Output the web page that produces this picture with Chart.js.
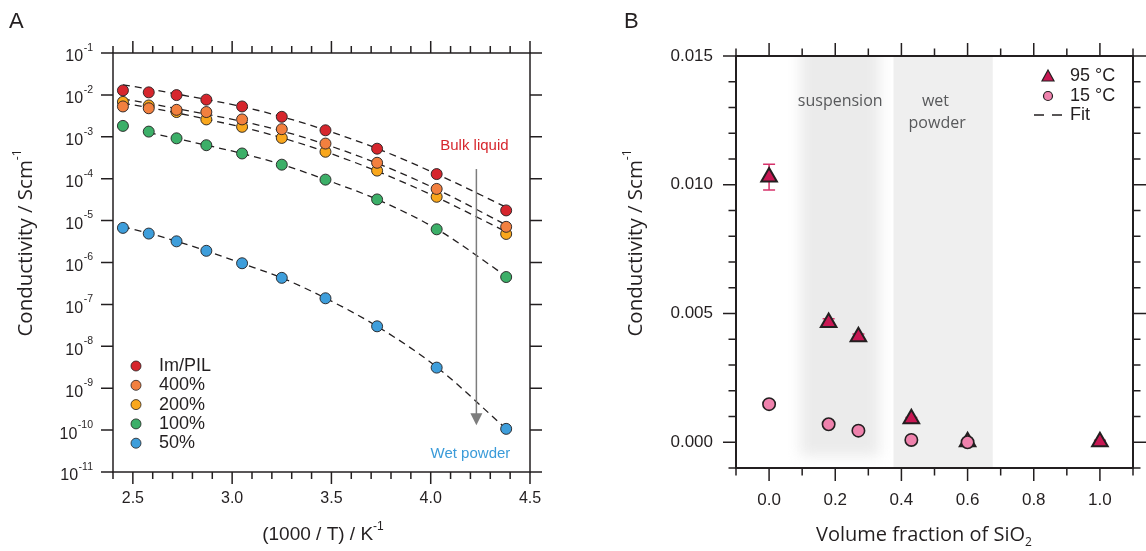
<!DOCTYPE html>
<html>
<head>
<meta charset="utf-8">
<script src="https://cdn.jsdelivr.net/npm/chart.js@4.4.1/dist/chart.umd.min.js"></script>
<style>
  body { margin: 0; background: #fff; }
  #wrap { position: relative; width: 1146px; height: 551px; }
  #wrap canvas { position: absolute; left: 0; top: 0; }
</style>
</head>
<body>
<div id="wrap">
  <canvas id="chartA" width="1146" height="551"></canvas>
  <canvas id="chartB" width="1146" height="551"></canvas>
</div>
<script>
// ---- panel A data: conductivity vs 1000/T ----
const invT = [2.45, 2.58, 2.72, 2.87, 3.05, 3.25, 3.47, 3.73, 4.03, 4.38];
const imPil = [1.28e-2, 1.15e-2, 9.9e-3, 7.7e-3, 5.3e-3, 3.0e-3, 1.43e-3, 5.2e-4, 1.29e-4, 1.75e-5];
const pct400 = [5.3e-3, 4.8e-3, 4.4e-3, 3.9e-3, 2.6e-3, 1.52e-3, 6.9e-4, 2.4e-4, 5.7e-5, 7.1e-6];
const pct200 = [6.8e-3, 5.6e-3, 3.9e-3, 2.6e-3, 1.73e-3, 9.4e-4, 4.4e-4, 1.56e-4, 3.7e-5, 4.8e-6];
const pct100 = [1.82e-3, 1.33e-3, 9.2e-4, 6.3e-4, 4.0e-4, 2.16e-4, 9.5e-5, 3.2e-5, 6.2e-6, 4.5e-7];
const pct50 = [6.7e-6, 4.9e-6, 3.2e-6, 1.9e-6, 9.6e-7, 4.3e-7, 1.4e-7, 3.0e-8, 3.1e-9, 1.07e-10];

// dashed fit curves at the same 1000/T values
const fitImPil = [1.74e-2, 1.38e-2, 1.05e-2, 7.76e-3, 5.25e-3, 3.02e-3, 1.45e-3, 5.25e-4, 1.29e-4, 2.09e-5];
const fit400 = [7.94e-3, 6.31e-3, 4.68e-3, 3.47e-3, 2.34e-3, 1.38e-3, 6.6e-4, 2.34e-4, 5.6e-5, 7.9e-6];
const fit200 = [6.31e-3, 5.0e-3, 3.72e-3, 2.63e-3, 1.70e-3, 9.5e-4, 4.4e-4, 1.51e-4, 3.6e-5, 5.4e-6];
const fit100 = [null, 1.26e-3, 9.1e-4, 6.3e-4, 4.0e-4, 2.19e-4, 9.5e-5, 3.2e-5, 6.3e-6, 4.7e-7];
const fit50 = [7.1e-6, 5.0e-6, 3.2e-6, 1.9e-6, 9.5e-7, 4.3e-7, 1.41e-7, 3.0e-8, 3.2e-9, 1.07e-10];

const seriesLabelsA = ['Im/PIL', '400%', '200%', '100%', '50%'];
const xTicksA = [2.5, 3.0, 3.5, 4.0, 4.5];
const xMinorA = [2.4, 2.6, 2.7, 2.8, 2.9, 3.1, 3.2, 3.3, 3.4, 3.6, 3.7, 3.8, 3.9, 4.1, 4.2, 4.3, 4.4];
const yExpA = [-1, -2, -3, -4, -5, -6, -7, -8, -9, -10, -11];

// ---- panel B data: conductivity vs SiO2 volume fraction ----
const volFrac95 = [0, 0.18, 0.27, 0.43, 0.60, 1.0];
const sigma95 = [0.0103, 0.00465, 0.0041, 0.00091, 0.00002, 0.00002];
const err95 = [0.0005, 0.00015, 0.0001, 0.00005, 0.00003, 0.00006];
const volFrac15 = [0, 0.18, 0.27, 0.43, 0.60];
const sigma15 = [0.00148, 0.0007, 0.00045, 0.00009, 0.0];
const xTicksB = [0, 0.2, 0.4, 0.6, 0.8, 1.0];
const xMinorB = [-0.1, 0.1, 0.3, 0.5, 0.7, 0.9, 1.1];
const yTicksB = [0, 0.005, 0.010, 0.015];
const yMinorB = [-0.001, 0.001, 0.002, 0.003, 0.004, 0.006, 0.007, 0.008, 0.009, 0.011, 0.012, 0.013, 0.014];
const suspensionBand = [0.077, 0.346];
const wetPowderBand = [0.376, 0.676];

const INK = '#231f20';
const SANS = '"Liberation Sans", Arial, sans-serif';
const HUMAN = '"Open Sans", "Noto Sans", sans-serif';
const colorsA = ['#d6262d', '#f2803f', '#f9a71c', '#3caf68', '#3e9edb'];

function pts(xs, ys) {
  return xs.map((x, i) => ({ x: x, y: ys[i] }));
}

function drawParts(ctx, parts, cx, cy, rotate) {
  ctx.save();
  ctx.translate(cx, cy);
  if (rotate) ctx.rotate(-Math.PI / 2);
  let w = 0;
  parts.forEach(p => { ctx.font = p.font; p.w = ctx.measureText(p.t).width; w += p.w; });
  let x = -w / 2;
  ctx.textAlign = 'left';
  ctx.textBaseline = 'alphabetic';
  ctx.fillStyle = INK;
  parts.forEach(p => { ctx.font = p.font; ctx.fillText(p.t, x, p.dy); x += p.w; });
  ctx.restore();
}

function drawFrame(chart, xMaj, xMin, yMaj, yMin, majLen, minLen, lw) {
  const ctx = chart.ctx;
  const { left, right, top, bottom } = chart.chartArea;
  const xs = chart.scales.x, ys = chart.scales.y;
  ctx.save();
  ctx.strokeStyle = INK;
  ctx.lineWidth = lw;
  ctx.strokeRect(left, top, right - left, bottom - top);
  ctx.lineWidth = 1.5;
  ctx.beginPath();
  const xt = (v, len) => {
    const p = xs.getPixelForValue(v);
    ctx.moveTo(p, bottom); ctx.lineTo(p, bottom + len);
    ctx.moveTo(p, top); ctx.lineTo(p, top - len);
  };
  const yt = (v, len) => {
    const p = ys.getPixelForValue(v);
    ctx.moveTo(left, p); ctx.lineTo(left - len, p);
    ctx.moveTo(right, p); ctx.lineTo(right + len, p);
  };
  xMaj.forEach(v => xt(v, majLen));
  xMin.forEach(v => xt(v, minLen));
  yMaj.forEach(v => yt(v, majLen));
  yMin.forEach(v => yt(v, minLen));
  ctx.stroke();
  ctx.restore();
}

const panelA = {
  id: 'panelA',
  afterDatasetsDraw(chart) {
    const ctx = chart.ctx;
    const xs = chart.scales.x, ys = chart.scales.y;
    drawFrame(chart, xTicksA, xMinorA, yExpA.map(e => Math.pow(10, e)), [], 12, 7, 1.5);

    // log tick labels 10^n
    ctx.save();
    ctx.fillStyle = INK;
    ctx.textAlign = 'right';
    ctx.textBaseline = 'middle';
    yExpA.forEach(e => {
      const py = ys.getPixelForValue(Math.pow(10, e));
      const sup = '-' + Math.abs(e);
      ctx.font = '10.5px ' + SANS;
      const sw = ctx.measureText(sup).width;
      ctx.fillText(sup, 93, py - 5);
      ctx.font = '16px ' + SANS;
      ctx.fillText('10', 93 - sw - 0.5, py + 4);
    });

    // legend
    chart.data.datasets.slice(0, 5).forEach((ds, i) => {
      const y = 366 + i * 19.3;
      ctx.beginPath();
      ctx.arc(136, y, 5, 0, Math.PI * 2);
      ctx.fillStyle = ds.backgroundColor;
      ctx.fill();
      ctx.lineWidth = 0.8;
      ctx.strokeStyle = INK;
      ctx.stroke();
      ctx.fillStyle = INK;
      ctx.textAlign = 'left';
      ctx.font = '18px ' + SANS;
      ctx.fillText(ds.label, 159, y);
    });

    // arrow from bulk liquid to wet powder
    const ax = xs.getPixelForValue(4.23);
    const ay0 = ys.getPixelForValue(1.7e-4);
    const ay1 = ys.getPixelForValue(1.3e-10);
    ctx.strokeStyle = '#7d7d7d';
    ctx.fillStyle = '#7d7d7d';
    ctx.lineWidth = 1.5;
    ctx.beginPath();
    ctx.moveTo(ax, ay0); ctx.lineTo(ax, ay1 - 10);
    ctx.stroke();
    ctx.beginPath();
    ctx.moveTo(ax - 6, ay1 - 12); ctx.lineTo(ax + 6, ay1 - 12); ctx.lineTo(ax, ay1);
    ctx.closePath();
    ctx.fill();

    ctx.textAlign = 'center';
    ctx.font = '15px ' + SANS;
    ctx.fillStyle = '#d6262d';
    ctx.fillText('Bulk liquid', xs.getPixelForValue(4.22), ys.getPixelForValue(6e-4));
    ctx.fillStyle = '#3a9bd9';
    ctx.fillText('Wet powder', xs.getPixelForValue(4.2), ys.getPixelForValue(2.75e-11));

    // panel letter
    ctx.textAlign = 'left';
    ctx.textBaseline = 'alphabetic';
    ctx.fillStyle = INK;
    ctx.font = '22px ' + SANS;
    ctx.fillText('A', 9, 28);
    ctx.restore();

    drawParts(ctx, [
      { t: 'Conductivity / Scm', font: '20.5px ' + HUMAN, dy: 0 },
      { t: '-1', font: '12px ' + HUMAN, dy: -11 }
    ], 32, 243, true);
    drawParts(ctx, [
      { t: '(1000 / T) / K', font: '19px ' + SANS, dy: 0 },
      { t: '-1', font: '12px ' + SANS, dy: -10 }
    ], 323, 540, false);
  }
};

const fitStyle = {
  showLine: true,
  borderColor: INK,
  borderWidth: 1.3,
  borderDash: [7, 5],
  pointRadius: 0,
  cubicInterpolationMode: 'monotone',
  spanGaps: false,
  order: 10
};

const pointSeries = [imPil, pct400, pct200, pct100, pct50];
const fitSeries = [fitImPil, fit400, fit200, fit100, fit50];
const orderA = [0, 1, 2, 3, 4];

new Chart(document.getElementById('chartA'), {
  type: 'scatter',
  data: {
    datasets: pointSeries.map((arr, i) => ({
      label: seriesLabelsA[i],
      data: pts(invT, arr),
      backgroundColor: colorsA[i],
      borderColor: INK,
      borderWidth: 0.9,
      pointRadius: 5.5,
      order: orderA[i]
    })).concat(fitSeries.map(arr => Object.assign({ data: pts(invT, arr) }, fitStyle)))
  },
  options: {
    responsive: false,
    animation: false,
    events: [],
    layout: { padding: { left: 43, right: 616, top: 53, bottom: 19 } },
    plugins: { legend: { display: false }, tooltip: { enabled: false } },
    scales: {
      x: {
        type: 'linear', min: 2.4, max: 4.5,
        afterBuildTicks: s => { s.ticks = xTicksA.map(v => ({ value: v })); },
        afterFit: s => { s.height = 60; },
        grid: { display: false, drawTicks: false }, border: { display: false },
        ticks: { color: INK, padding: 17, font: { family: SANS, size: 16 }, callback: v => v.toFixed(1), maxRotation: 0 }
      },
      y: {
        type: 'logarithmic', min: 1e-11, max: 1e-1,
        afterFit: s => { s.width = 70; },
        grid: { display: false, drawTicks: false }, border: { display: false },
        ticks: { display: false }
      }
    }
  },
  plugins: [panelA]
});

const panelB = {
  id: 'panelB',
  beforeDatasetsDraw(chart) {
    const ctx = chart.ctx;
    const { left, right, top, bottom } = chart.chartArea;
    const xs = chart.scales.x, ys = chart.scales.y;
    ctx.save();
    ctx.beginPath();
    ctx.rect(left, top, right - left, bottom - top);
    ctx.clip();
    // soft band for the suspension region
    ctx.filter = 'blur(7px)';
    ctx.fillStyle = '#ebebeb';
    const s0 = xs.getPixelForValue(suspensionBand[0]) + 6;
    const s1 = xs.getPixelForValue(suspensionBand[1]) - 4;
    ctx.fillRect(s0, top - 20, s1 - s0, bottom - top + 8);
    ctx.filter = 'none';
    ctx.fillStyle = '#efefef';
    const w0 = xs.getPixelForValue(wetPowderBand[0]);
    const w1 = xs.getPixelForValue(wetPowderBand[1]);
    ctx.fillRect(w0, top, w1 - w0, bottom - top);
    ctx.restore();

    ctx.save();
    ctx.fillStyle = '#58595b';
    ctx.textAlign = 'center';
    ctx.textBaseline = 'middle';
    ctx.font = '16px ' + HUMAN;
    ctx.fillText('suspension', xs.getPixelForValue(0.215), ys.getPixelForValue(0.01325));
    ctx.fillText('wet', xs.getPixelForValue(0.503), ys.getPixelForValue(0.01325));
    ctx.fillText('powder', xs.getPixelForValue(0.508), ys.getPixelForValue(0.01237));

    // error bars of the 95 °C points
    ctx.strokeStyle = '#d6336b';
    ctx.lineWidth = 1.5;
    ctx.beginPath();
    volFrac95.forEach((x, i) => {
      const px = xs.getPixelForValue(x);
      const hi = ys.getPixelForValue(sigma95[i] + err95[i]);
      const lo = ys.getPixelForValue(sigma95[i] - err95[i]);
      ctx.moveTo(px, hi); ctx.lineTo(px, lo);
      ctx.moveTo(px - 6, hi); ctx.lineTo(px + 6, hi);
      ctx.moveTo(px - 6, lo); ctx.lineTo(px + 6, lo);
    });
    ctx.stroke();
    ctx.restore();
  },
  afterDatasetsDraw(chart) {
    const ctx = chart.ctx;
    drawFrame(chart, xTicksB, xMinorB, yTicksB, yMinorB, 13, 7.5, 2);

    ctx.save();
    // legend
    const tri = chart.data.datasets[1], circ = chart.data.datasets[0];
    ctx.fillStyle = tri.backgroundColor;
    ctx.strokeStyle = INK;
    ctx.lineWidth = 1.2;
    ctx.beginPath();
    ctx.moveTo(1048, 70); ctx.lineTo(1054, 81); ctx.lineTo(1042, 81);
    ctx.closePath();
    ctx.fill(); ctx.stroke();
    ctx.beginPath();
    ctx.arc(1048, 96, 4.5, 0, Math.PI * 2);
    ctx.fillStyle = circ.backgroundColor;
    ctx.fill(); ctx.stroke();
    ctx.lineWidth = 1.5;
    ctx.setLineDash([10, 8]);
    ctx.beginPath();
    ctx.moveTo(1034, 115); ctx.lineTo(1062, 115);
    ctx.stroke();
    ctx.setLineDash([]);
    ctx.fillStyle = INK;
    ctx.font = '18px ' + SANS;
    ctx.textAlign = 'left';
    ctx.textBaseline = 'middle';
    ctx.fillText(tri.label, 1070, 76);
    ctx.fillText(circ.label, 1070, 96);
    ctx.fillText('Fit', 1070, 115);

    ctx.textBaseline = 'alphabetic';
    ctx.font = '22px ' + SANS;
    ctx.fillText('B', 624, 28);
    ctx.restore();

    drawParts(ctx, [
      { t: 'Conductivity / Scm', font: '20.5px ' + HUMAN, dy: 0 },
      { t: '-1', font: '12px ' + HUMAN, dy: -11 }
    ], 642, 243, true);
    drawParts(ctx, [
      { t: 'Volume fraction of SiO', font: '20px ' + HUMAN, dy: 0 },
      { t: '2', font: '12px ' + HUMAN, dy: 5 }
    ], 924, 541, false);
  }
};

new Chart(document.getElementById('chartB'), {
  type: 'scatter',
  data: {
    datasets: [
      {
        label: '15 °C',
        data: pts(volFrac15, sigma15),
        backgroundColor: '#ef82ad',
        borderColor: INK,
        borderWidth: 1.6,
        pointRadius: 6.2,
        order: 0
      },
      {
        label: '95 °C',
        data: pts(volFrac95, sigma95),
        pointStyle: 'triangle',
        backgroundColor: '#c81753',
        borderColor: INK,
        borderWidth: 2,
        pointRadius: 9,
        order: 1
      }
    ]
  },
  options: {
    responsive: false,
    animation: false,
    events: [],
    layout: { padding: { left: 646, right: 13, top: 56, bottom: 23 } },
    plugins: { legend: { display: false }, tooltip: { enabled: false } },
    scales: {
      x: {
        type: 'linear', min: -0.1, max: 1.1,
        afterBuildTicks: s => { s.ticks = xTicksB.map(v => ({ value: v })); },
        afterFit: s => { s.height = 60; },
        grid: { display: false, drawTicks: false }, border: { display: false },
        ticks: { color: INK, padding: 22, font: { family: SANS, size: 17 }, callback: v => v.toFixed(1), maxRotation: 0 }
      },
      y: {
        type: 'linear', min: -0.001, max: 0.015,
        afterBuildTicks: s => { s.ticks = yTicksB.map(v => ({ value: v })); },
        afterFit: s => { s.width = 90; },
        grid: { display: false, drawTicks: false }, border: { display: false },
        ticks: { color: INK, padding: 23, font: { family: SANS, size: 17 }, callback: v => v.toFixed(3) }
      }
    }
  },
  plugins: [panelB]
});
</script>
</body>
</html>
